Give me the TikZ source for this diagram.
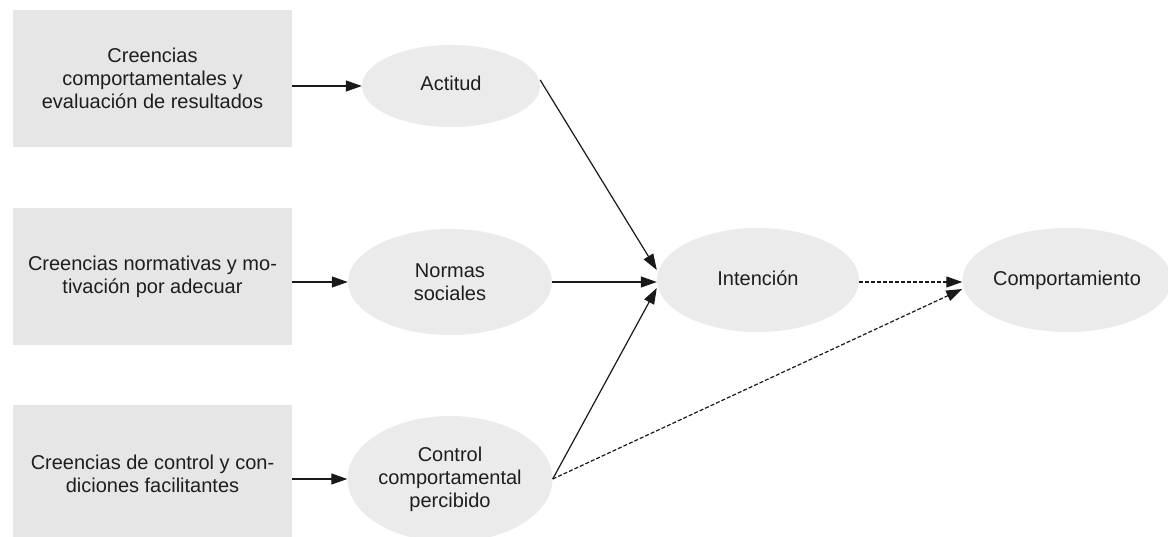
\documentclass[tikz,border=0pt]{standalone}
\usepackage{fontspec}
\setmainfont{Liberation Sans}
\usetikzlibrary{shapes.geometric,arrows.meta}
\definecolor{boxfill}{HTML}{E6E6E6}
\definecolor{ellfill}{HTML}{EBEBEB}
\definecolor{txt}{HTML}{1E1E1E}
\tikzset{
  src/.style={rectangle, fill=boxfill, minimum width=279pt, minimum height=137pt, inner sep=0pt, align=center, text=txt, font=\fontsize{20}{23}\selectfont},
  ell/.style={ellipse, fill=ellfill, inner sep=0pt, align=center, text=txt, font=\fontsize{20}{23}\selectfont},
  arr/.style={line width=1.2pt, draw=black!90, -{Triangle[length=16pt,width=11pt]}},
  darr/.style={arr, dash pattern=on 4pt off 2pt}
}
\begin{document}
\begin{tikzpicture}[x=1pt,y=-1pt]
\clip (0,0) rectangle (1168,537);
\fill[white] (0,0) rectangle (1168,537);
\node[src] (b1) at (152.5,78.5) {Creencias\\comportamentales y\\evaluación de resultados};
\node[src] (b2) at (152.5,276.5) {Creencias normativas y mo-\\tivación por adecuar};
\node[src] (b3) at (152.5,473.5) {Creencias de control y con-\\diciones facilitantes};
\node[ell, minimum width=178pt, minimum height=82pt] (act) at (451,86) {\raisebox{6pt}{Actitud}};
\node[ell, minimum width=204pt, minimum height=106pt] (nor) at (450,282) {Normas\\sociales};
\node[ell, minimum width=205pt, minimum height=126pt] (ctl) at (450,479) {Control\\comportamental\\percibido};
\node[ell, minimum width=202pt, minimum height=104pt] (int) at (758,280) {\raisebox{3pt}{Intención}};
\node[ell, minimum width=200pt, minimum height=104pt] (com) at (1067,280) {\raisebox{3pt}{Comportamiento}};
\draw[arr] (b1.east |- act.west) -- (act.west);
\draw[arr] (b2.east |- nor.west) -- (nor.west);
\draw[arr] (b3.east |- ctl.west) -- (ctl.west);
\draw[arr] ([yshift=6pt]act.east) -- ([yshift=10pt]int.west);
\draw[arr] (nor.east) -- (int.west |- nor.east);
\draw[arr] (ctl.east) -- ([yshift=-8pt]int.west);
\draw[darr] ([yshift=-2pt]int.east) -- ([yshift=-2pt]com.west);
\draw[darr] (ctl.east) -- ([yshift=-9pt]com.west);
\end{tikzpicture}
\end{document}
